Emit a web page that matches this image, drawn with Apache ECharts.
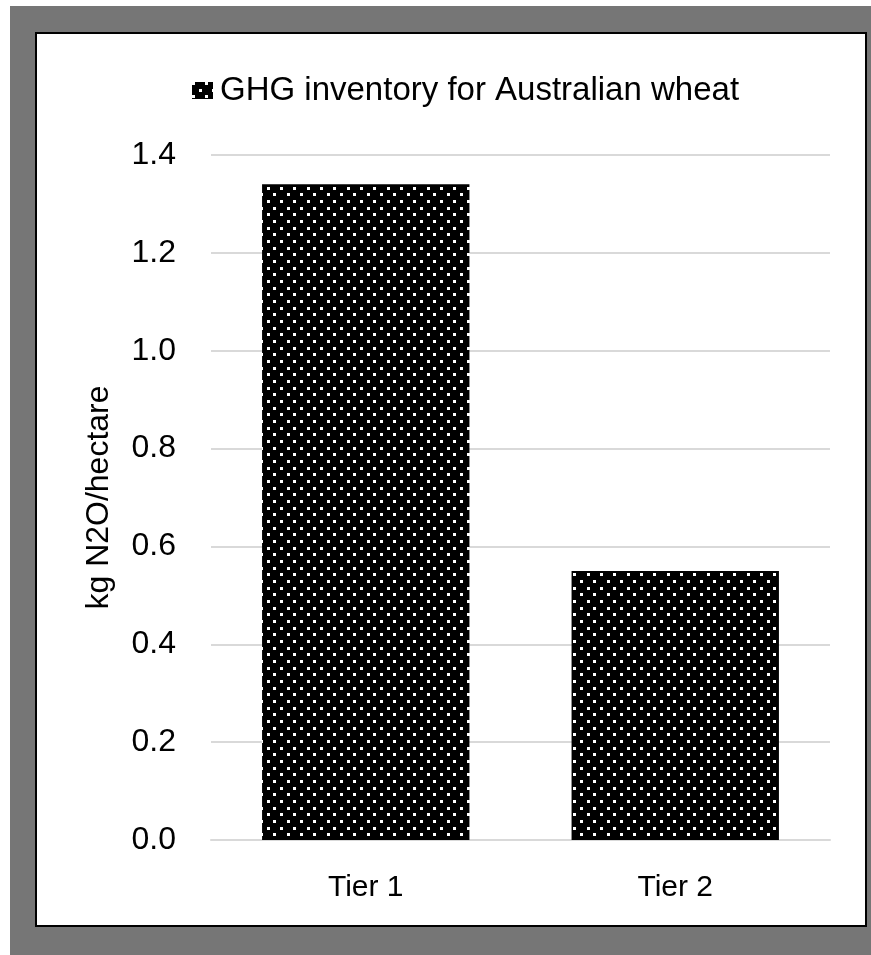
<!DOCTYPE html>
<html>
<head>
<meta charset="utf-8">
<script src="https://cdn.jsdelivr.net/npm/echarts@6/dist/echarts.min.js"></script>
<style>
  html, body { margin: 0; padding: 0; background: #fff; }
  .frame { position: absolute; left: 10px; top: 6px; width: 861px; height: 949px; background: #767676; }
  .panel { position: absolute; left: 35px; top: 32px; width: 828px; height: 891px; background: #fff; border: 2px solid #000; }
  #chart { position: absolute; left: 0; top: 0; width: 871px; height: 955px; }
</style>
</head>
<body>
<div class="frame"></div>
<div class="panel"></div>
<div id="chart"></div>
<script>
const categories = ['Tier 1', 'Tier 2']
const values = [1.34, 0.55]
const seriesName = 'GHG inventory for Australian wheat'
const axisName = 'kg N2O/hectare'

// black fill with small white dots, staggered rows
function dotPattern() {
  const c = document.createElement('canvas')
  c.width = 40
  c.height = 40
  const ctx = c.getContext('2d')
  ctx.fillStyle = '#000'
  ctx.fillRect(0, 0, 40, 40)
  ctx.fillStyle = '#fff'
  const step = 40 / 6
  for (let r = 0; r < 6; r++) {
    for (let k = 0; k < 3; k++) {
      const x = Math.round(k * step * 2 + (r % 2 ? step : 0))
      const y = Math.round(r * step)
      ctx.fillRect(x, y, 3, 3)
    }
  }
  return { image: c, repeat: 'repeat' }
}

const font = '"Liberation Sans", Arial, sans-serif'
const chart = echarts.init(document.getElementById('chart'), null, { renderer: 'canvas' })

chart.setOption({
  animation: false,
  textStyle: { fontFamily: font, color: '#000' },
  legend: {
    left: 187,
    top: 69,
    icon: 'rect',
    itemWidth: 21,
    itemHeight: 17,
    itemGap: 8,
    itemStyle: { borderWidth: 0 },
    textStyle: { fontSize: 33, color: '#000', fontFamily: font, padding: [0, 0, 0, 2] },
    data: [seriesName],
  },
  grid: { left: 211, right: 41, top: 155, bottom: 115 },
  xAxis: {
    type: 'category',
    data: categories,
    axisLine: { lineStyle: { color: '#d9d9d9', width: 2 } },
    axisTick: { show: false },
    axisLabel: { color: '#000', fontSize: 30, margin: 33 },
  },
  yAxis: {
    type: 'value',
    min: 0,
    max: 1.4,
    interval: 0.2,
    name: axisName,
    nameLocation: 'middle',
    nameGap: 96,
    nameTextStyle: { fontSize: 32, color: '#000' },
    axisLine: { show: false },
    axisTick: { show: false },
    axisLabel: { color: '#000', fontSize: 32, margin: 35, formatter: v => v.toFixed(1) },
    splitLine: { lineStyle: { color: '#d9d9d9', width: 2 } },
  },
  series: [{
    name: seriesName,
    type: 'bar',
    data: values,
    barCategoryGap: '33%',
    itemStyle: { color: dotPattern() },
  }],
})
</script>
</body>
</html>
